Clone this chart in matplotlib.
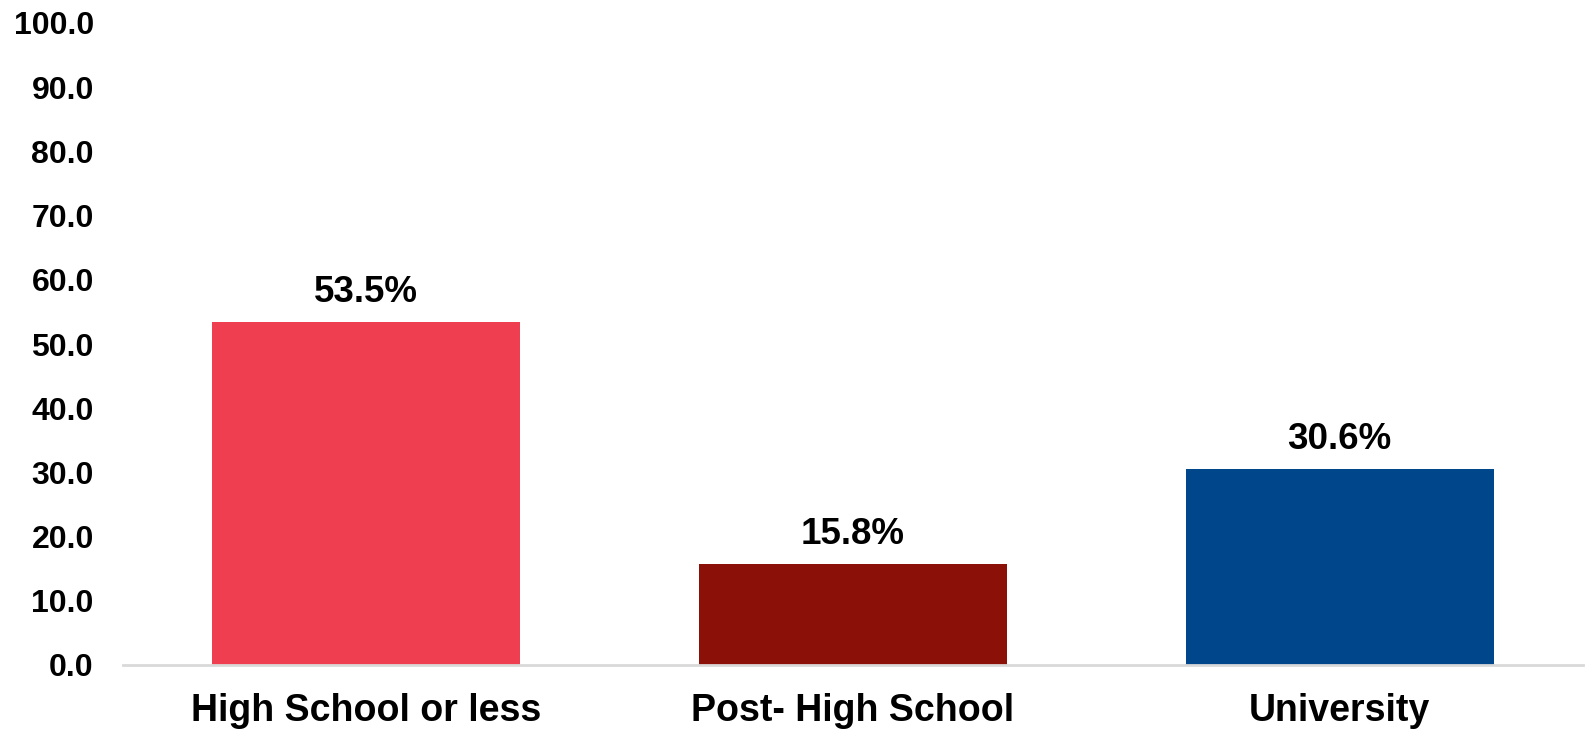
import numpy as np
import matplotlib
matplotlib.use('Agg')
import matplotlib.pyplot as plt

plt.rcParams['font.family'] = ['Liberation Sans', 'DejaVu Sans']
plt.rcParams['font.weight'] = 'bold'

categories = ['High School or less', 'Post- High School', 'University']
values = [53.5, 15.8, 30.6]
bar_colors = ['#EE3E4F', '#8B1108', '#00468B']
y_ticks = np.arange(0, 101, 10)

fig = plt.figure(figsize=(15.91, 7.32), dpi=100)
ax = fig.add_axes([123 / 1591, 1 - 665 / 732, 1460 / 1591, 642 / 732])

x = np.arange(len(categories))
ax.bar(x, values, width=0.633, color=bar_colors, zorder=2)

for xi, v in zip(x, values):
    ax.annotate(f'{v:.1f}%', (xi, v), xytext=(0, 14), textcoords='offset points',
                ha='center', va='baseline', fontsize=26.5, fontweight='bold')

ax.set_xlim(-0.5, len(categories) - 0.5)
ax.set_ylim(0, 100)
ax.set_yticks(y_ticks)
ax.set_yticklabels([f'{t:.1f}' for t in y_ticks], fontsize=23, fontweight='bold')
ax.set_xticks(x)
ax.set_xticklabels(categories, fontsize=27, fontweight='bold')
ax.tick_params(axis='y', length=0, pad=21)
ax.tick_params(axis='x', length=0, pad=20)

for side in ['top', 'right', 'left']:
    ax.spines[side].set_visible(False)
ax.spines['bottom'].set_color('#D9D9D9')
ax.spines['bottom'].set_linewidth(2)
ax.spines['bottom'].set_zorder(3)

fig.savefig('out.png', dpi=100)
